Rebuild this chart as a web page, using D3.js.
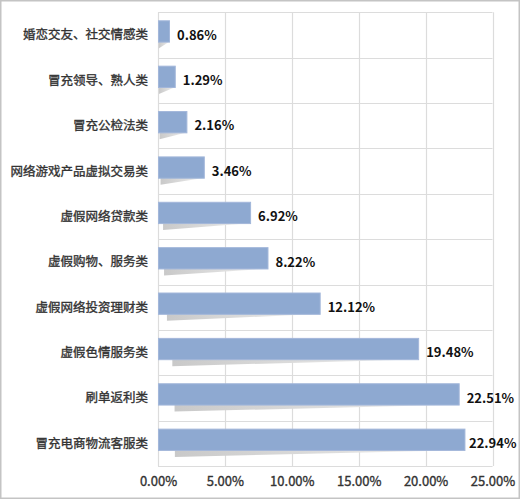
<!DOCTYPE html>
<html>
<head>
<meta charset="utf-8">
<script src="https://cdn.jsdelivr.net/npm/d3@7"></script>
<style>
html,body{margin:0;padding:0;background:#fff;}
svg{display:block;}
</style>
</head>
<body>
<svg id="chart" width="521" height="500"></svg>
<script>
const categories = ["婚恋交友、社交情感类","冒充领导、熟人类","冒充公检法类","网络游戏产品虚拟交易类","虚假网络贷款类","虚假购物、服务类","虚假网络投资理财类","虚假色情服务类","刷单返利类","冒充电商物流客服类"];
const values = [0.86,1.29,2.16,3.46,6.92,8.22,12.12,19.48,22.51,22.94];
const tickValues = [0,5,10,15,20,25];
const tickLabels = ["0.00%","5.00%","10.00%","15.00%","20.00%","25.00%"];

const svg = d3.select("#chart");
const W = 521, H = 500;
const m = {left:158, right:28.5, top:12.3, bottom:34};
const x = d3.scaleLinear().domain([0,25]).range([m.left, W - m.right]);
const y = d3.scaleBand().domain(categories).range([m.top, H - m.bottom]).paddingInner(0).paddingOuter(0);

// outer border
svg.append("rect").attr("x",0.75).attr("y",0.75).attr("width",W-2.5).attr("height",H-2.5)
  .attr("fill","#fff").attr("stroke","#c4c4c4").attr("stroke-width",1.5);

const defs = svg.append("defs");
const grad = defs.append("linearGradient").attr("id","shadowGrad").attr("x1","0").attr("x2","1").attr("y1","0").attr("y2","0");
grad.append("stop").attr("offset","0").attr("stop-color","#c9c9c9");
grad.append("stop").attr("offset","0.6").attr("stop-color","#dedede");
grad.append("stop").attr("offset","1").attr("stop-color","#f2f2f2");

// vertical gridlines
svg.append("g").selectAll("line").data(tickValues).join("line")
  .attr("x1",d=>Math.round(x(d))+0.5).attr("x2",d=>Math.round(x(d))+0.5)
  .attr("y1",y.range()[0]).attr("y2",y.range()[1])
  .attr("stroke","#dcdcdc").attr("stroke-width",1.2);

// horizontal separators
const seps = categories.map(c=>y(c)).concat([y.range()[1]]);
svg.append("g").selectAll("line").data(seps).join("line")
  .attr("x1",x(0)).attr("x2",x(25))
  .attr("y1",d=>Math.round(d)+0.5).attr("y2",d=>Math.round(d)+0.5)
  .attr("stroke","#dcdcdc").attr("stroke-width",1.2);

const barOff = 8.5, barH = 21.3;
const rows = categories.map((c,i)=>({c, v:values[i]}));

// shadows
svg.append("g").selectAll("path").data(rows).join("path")
  .attr("d", d => {
    const x0 = x(0), w = x(d.v) - x(0);
    const bb = y(d.c) + barOff + barH;
    const lx = x0 + 0.055*w;
    return `M${lx},${bb-2} L${x0+w*0.95},${bb-2} L${x0+w*0.95},${bb} L${lx},${bb+6.5} Z`;
  })
  .attr("fill","url(#shadowGrad)");

// bars
svg.append("g").selectAll("rect").data(rows).join("rect")
  .attr("x", x(0)+0.5)
  .attr("y", d => y(d.c) + barOff)
  .attr("width", d => x(d.v) - x(0) - 0.5)
  .attr("height", barH)
  .attr("fill","#8ea9d1")
  .attr("stroke","#a3b7da").attr("stroke-width",1);

// value labels
svg.append("g").selectAll("text").data(rows).join("text")
  .attr("x", d => Math.min(x(d.v) + 7.5, W - 52))
  .attr("y", d => y(d.c) + y.bandwidth()/2)
  .attr("dy","0.36em")
  .attr("font-family","'Noto Sans CJK SC', 'Noto Sans', sans-serif")
  .attr("font-weight","bold")
  .attr("font-size","13px")
  .attr("fill","#111")
  .text(d => d.v.toFixed(2) + "%");

// category labels
svg.append("g").selectAll("text").data(categories).join("text")
  .attr("x", 148)
  .attr("y", d => y(d) + y.bandwidth()/2)
  .attr("dy","0.36em")
  .attr("text-anchor","end")
  .attr("font-family","'Noto Sans CJK SC', sans-serif")
  .attr("font-size","12.5px")
  .attr("fill","#333")
  .attr("stroke","#333").attr("stroke-width",0.35)
  .text(d => d);

// x axis tick labels
const xAxis = d3.axisBottom(x).tickValues(tickValues).tickSize(0).tickPadding(0)
  .tickFormat((d,i)=>tickLabels[i]);
const gx = svg.append("g").attr("transform",`translate(0,${H - m.bottom})`).call(xAxis);
gx.select(".domain").remove();
gx.selectAll("text")
  .attr("y", 15.5).attr("dy","0.36em")
  .attr("font-family","'Noto Sans CJK SC', 'Noto Sans', sans-serif")
  .attr("font-size","13px")
  .attr("fill","#333")
  .attr("stroke","#333").attr("stroke-width",0.35);
</script>
</body>
</html>
